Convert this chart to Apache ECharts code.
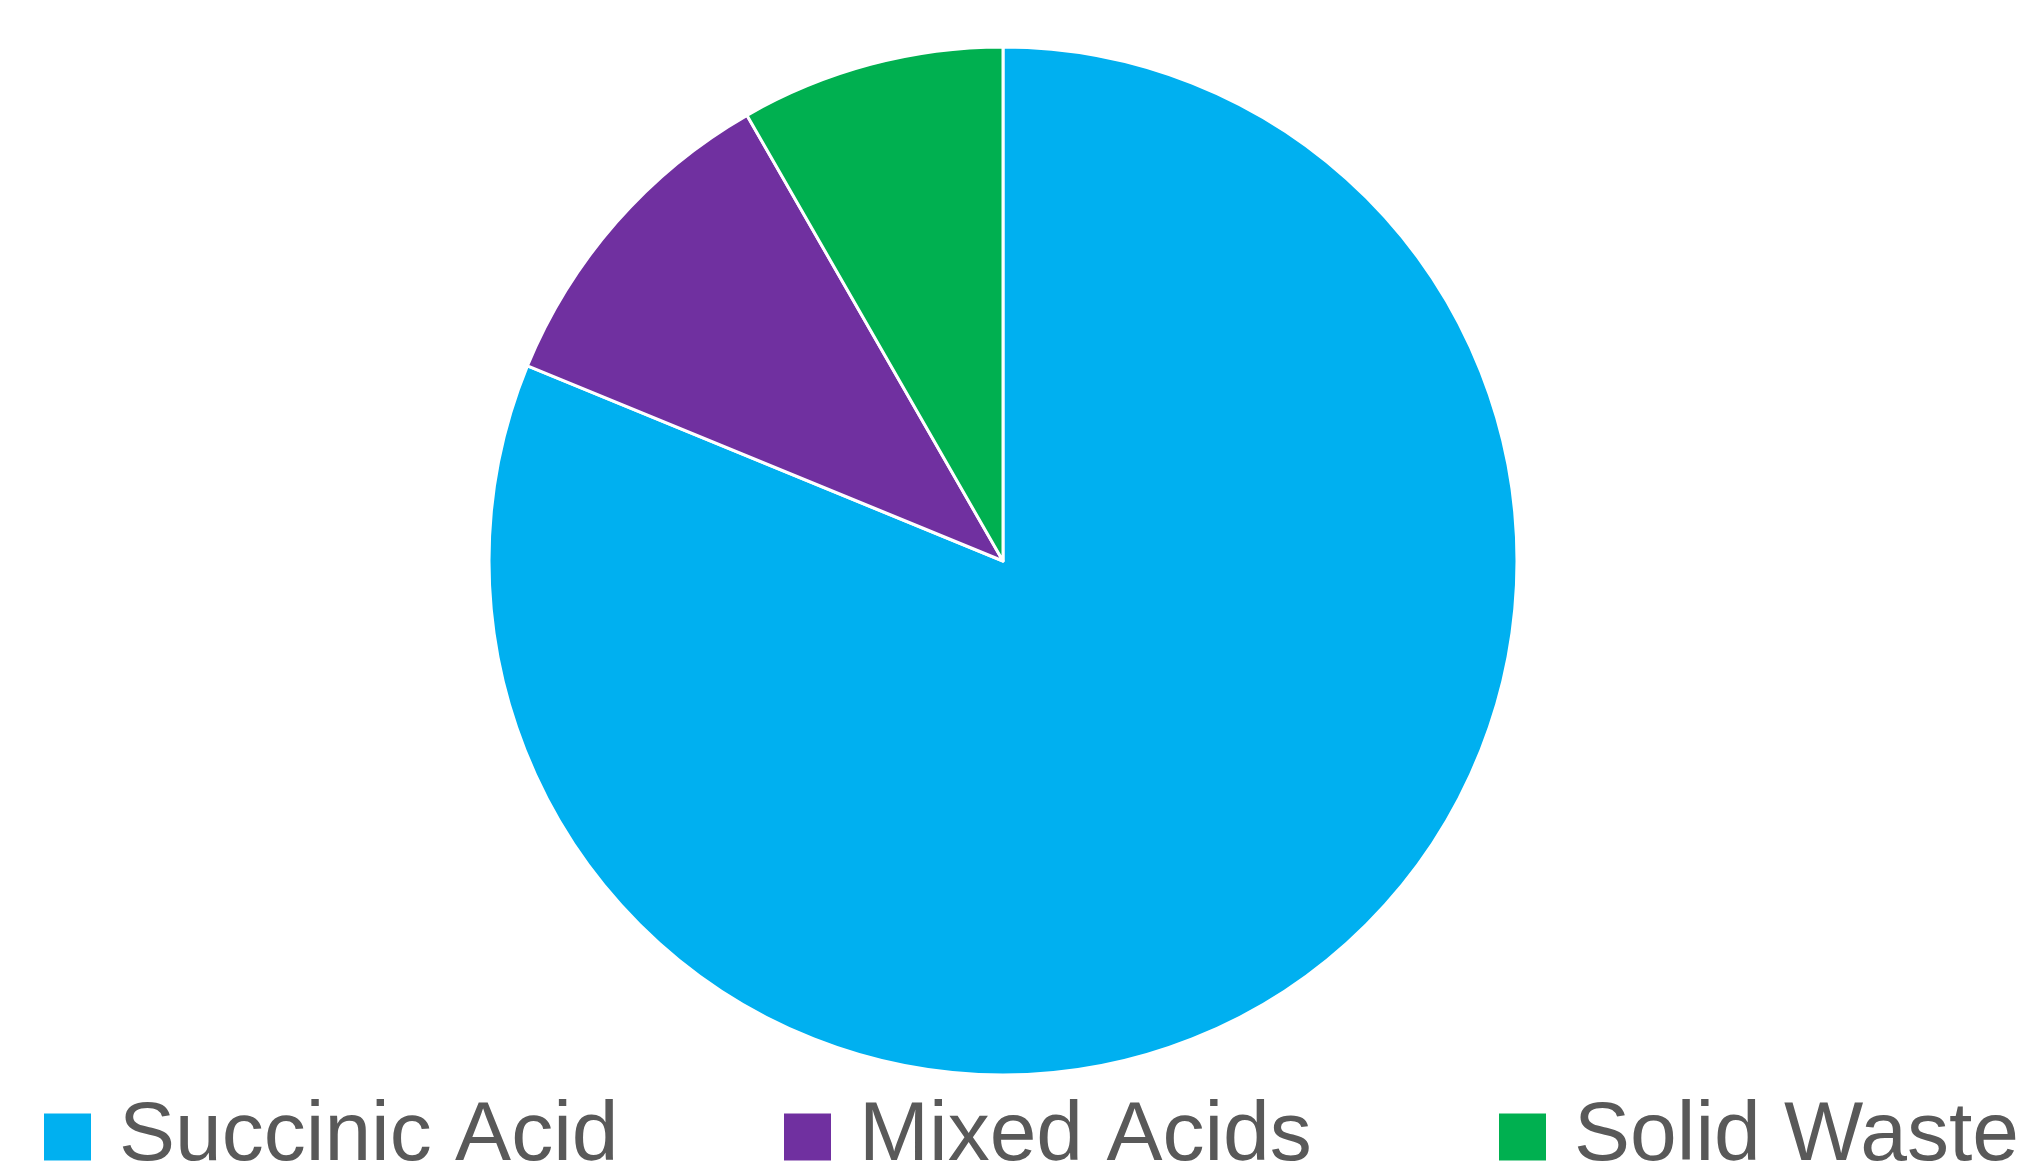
<!DOCTYPE html>
<html>
<head>
<meta charset="utf-8">
<script src="https://cdn.jsdelivr.net/npm/echarts@6/dist/echarts.min.js"></script>
<style>
html,body{margin:0;padding:0;background:#fff;}
#chart{width:2037px;height:1171px;}
</style>
</head>
<body>
<div id="chart"></div>
<script>
const categories = ['Succinic Acid', 'Mixed Acids', 'Solid Waste'];
const values = [81.2, 10.5, 8.3];
const colors = ['#00B0F0', '#7030A0', '#00B050'];

const chart = echarts.init(document.getElementById('chart'));
const legendLefts = [37, 777, 1492];
const legends = categories.map((name, i) => ({
  data: [name],
  left: legendLefts[i],
  top: 1090,
  orient: 'horizontal',
  itemWidth: 49,
  itemHeight: 49,
  icon: 'rect',
  selectedMode: false,
  textStyle: {
    fontFamily: 'Liberation Sans, Arial, sans-serif',
    fontSize: 84,
    color: '#595959',
    padding: [4, 0, 0, 22]
  }
}));

chart.setOption({
  animation: false,
  color: colors,
  legend: legends,
  series: [{
    type: 'pie',
    center: [1003, 561],
    radius: 514,
    startAngle: 90,
    clockwise: true,
    label: { show: false },
    labelLine: { show: false },
    itemStyle: { borderColor: '#ffffff', borderWidth: 3 },
    emphasis: { disabled: true },
    data: categories.map((name, i) => ({ name: name, value: values[i] }))
  }]
});
</script>
</body>
</html>
